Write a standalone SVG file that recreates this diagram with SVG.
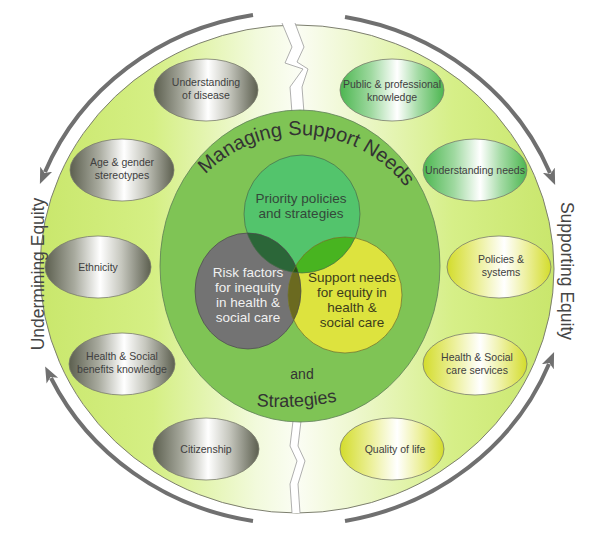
<svg xmlns="http://www.w3.org/2000/svg" width="600" height="546" viewBox="0 0 600 546">
<defs>
  <linearGradient id="ringGrad" gradientUnits="userSpaceOnUse" x1="40" y1="0" x2="555" y2="0">
    <stop offset="0" stop-color="#c9e76c"/>
    <stop offset="0.22" stop-color="#d5ef84"/>
    <stop offset="0.42" stop-color="#f2fadc"/>
    <stop offset="0.5" stop-color="#fbfdf4"/>
    <stop offset="0.6" stop-color="#eff8d2"/>
    <stop offset="0.8" stop-color="#d6ef88"/>
    <stop offset="1" stop-color="#c9e66c"/>
  </linearGradient>
  <linearGradient id="greyGrad" x1="0" y1="0" x2="1" y2="0">
    <stop offset="0" stop-color="#5c5f4f"/>
    <stop offset="0.28" stop-color="#a9ab9f"/>
    <stop offset="0.52" stop-color="#ffffff"/>
    <stop offset="0.72" stop-color="#c6c7be"/>
    <stop offset="1" stop-color="#5c5f4f"/>
  </linearGradient>
  <linearGradient id="greenGrad" x1="0" y1="0" x2="1" y2="0">
    <stop offset="0" stop-color="#4cb650"/>
    <stop offset="0.3" stop-color="#9fd9a0"/>
    <stop offset="0.55" stop-color="#ffffff"/>
    <stop offset="0.75" stop-color="#a4dba5"/>
    <stop offset="1" stop-color="#4cb650"/>
  </linearGradient>
  <linearGradient id="yellowGrad" x1="0" y1="0" x2="1" y2="0">
    <stop offset="0" stop-color="#d3dc2c"/>
    <stop offset="0.3" stop-color="#ecf09a"/>
    <stop offset="0.55" stop-color="#ffffff"/>
    <stop offset="0.75" stop-color="#eef1a4"/>
    <stop offset="1" stop-color="#d3dc2c"/>
  </linearGradient>
  <marker id="head" viewBox="0 -7 17 14" refX="3" refY="0" markerWidth="17" markerHeight="14" markerUnits="userSpaceOnUse" orient="auto">
    <path d="M0,-6.5 L16,0 L0,6.5 L4,0 Z" fill="#707070"/>
  </marker>
  <clipPath id="cG"><ellipse cx="302" cy="214" rx="58" ry="59"/></clipPath>
  <clipPath id="cK"><ellipse cx="248" cy="291" rx="53" ry="58"/></clipPath>
  <path id="topArc" d="M 167 268 A 133 133 0 0 1 433 268"/>
  <path id="botArc" d="M -20 107 A 300 300 0 0 0 580 107"/>
  <style>
    .node ellipse { stroke: #7a7c6c; stroke-width: 0.8; }
    .lbl { font-family: "Liberation Sans", Arial, sans-serif; font-size: 10.5px; fill: #404040; text-anchor: middle; }
    .venn { font-family: "Liberation Sans", Arial, sans-serif; font-size: 13.5px; text-anchor: middle; }
    .side { font-family: "Liberation Sans", Arial, sans-serif; font-size: 17.5px; fill: #454545; text-anchor: middle; }
    .arrow { fill: none; stroke: #707070; stroke-width: 4; }
    .crackline { fill: none; stroke: #9a9a9a; stroke-width: 0.8; }
  </style>
</defs>

<!-- Outer ring -->
<g id="outer-ring">
  <ellipse cx="297" cy="269" rx="257" ry="244" fill="url(#ringGrad)" stroke="#7d7f6f" stroke-width="1"/>
</g>

<!-- Cracks -->
<g id="cracks">
  <polygon points="282,23 292,47 285,63 303,69 290,87 292,113 304,113 302,87 308,69 297,62 304,47 295,23" fill="#ffffff"/>
  <polyline class="crackline" points="282,23 292,47 285,63 303,69 290,87 292,113"/>
  <polyline class="crackline" points="295,23 304,47 297,62 308,69 302,87 304,113"/>
  <polygon points="293,421 290,446 297,461 290,484 292,513 300,513 298,484 305,461 298,446 301,421" fill="#ffffff"/>
  <polyline class="crackline" points="293,421 290,446 297,461 290,484 292,513"/>
  <polyline class="crackline" points="301,421 298,446 305,461 298,484 300,513"/>
</g>

<!-- Inner circle -->
<g id="inner-circle">
  <ellipse cx="300" cy="266" rx="140" ry="156" fill="#7fc455" stroke="#5d7d55" stroke-width="0.8"/>
  <text font-family="'Liberation Sans', Arial, sans-serif" font-size="20" fill="#333333" text-anchor="middle"><textPath href="#topArc" startOffset="52%">Managing Support Needs</textPath></text>
  <text x="302" y="379" font-family="'Liberation Sans', Arial, sans-serif" font-size="14" fill="#333333" text-anchor="middle">and</text>
  <text font-family="'Liberation Sans', Arial, sans-serif" font-size="18" fill="#333333" text-anchor="middle"><textPath href="#botArc" startOffset="488">Strategies</textPath></text>
</g>

<!-- Venn -->
<g id="venn">
  <ellipse cx="302" cy="214" rx="58" ry="59" fill="#53c46c"/>
  <ellipse cx="248" cy="291" rx="53" ry="58" fill="#737373"/>
  <ellipse cx="345" cy="295" rx="57" ry="58" fill="#dde33e"/>
  <g clip-path="url(#cG)"><ellipse cx="248" cy="291" rx="53" ry="58" fill="#2b6638"/></g>
  <g clip-path="url(#cG)"><ellipse cx="345" cy="295" rx="57" ry="58" fill="#48b420"/></g>
  <g clip-path="url(#cK)"><ellipse cx="345" cy="295" rx="57" ry="58" fill="#6b6a20"/></g>
  <g clip-path="url(#cG)"><g clip-path="url(#cK)"><ellipse cx="345" cy="295" rx="57" ry="58" fill="#24520f"/></g></g>
  <ellipse cx="302" cy="214" rx="58" ry="59" fill="none" stroke="#4a6a4a" stroke-width="0.7"/>
  <ellipse cx="248" cy="291" rx="53" ry="58" fill="none" stroke="#4a4a4a" stroke-width="0.7"/>
  <ellipse cx="345" cy="295" rx="57" ry="58" fill="none" stroke="#6a6a30" stroke-width="0.7"/>
</g>
<g id="venn-priority">
  <text class="venn" fill="#34483a"><tspan x="301" y="203">Priority policies</tspan><tspan x="301" y="218">and strategies</tspan></text>
</g>
<g id="venn-risk">
  <text class="venn" fill="#f0f0f0"><tspan x="248" y="277">Risk factors</tspan><tspan x="248" y="292">for inequity</tspan><tspan x="248" y="307">in health &amp;</tspan><tspan x="248" y="322">social care</tspan></text>
</g>
<g id="venn-support">
  <text class="venn" fill="#3c3c1c"><tspan x="352" y="282">Support needs</tspan><tspan x="352" y="297">for equity in</tspan><tspan x="352" y="312">health &amp;</tspan><tspan x="352" y="327">social care</tspan></text>
</g>

<!-- Left nodes -->
<g id="n-understanding-disease" class="node">
  <ellipse cx="206" cy="90" rx="52" ry="31" fill="url(#greyGrad)"/>
  <text class="lbl"><tspan x="206" y="86">Understanding</tspan><tspan x="206" y="99">of disease</tspan></text>
</g>
<g id="n-age-gender" class="node">
  <ellipse cx="122" cy="170" rx="52" ry="31" fill="url(#greyGrad)"/>
  <text class="lbl"><tspan x="122" y="166">Age &amp; gender</tspan><tspan x="122" y="179">stereotypes</tspan></text>
</g>
<g id="n-ethnicity" class="node">
  <ellipse cx="98" cy="267" rx="53" ry="31" fill="url(#greyGrad)"/>
  <text class="lbl" x="98" y="271">Ethnicity</text>
</g>
<g id="n-benefits" class="node">
  <ellipse cx="122" cy="364" rx="53" ry="31" fill="url(#greyGrad)"/>
  <text class="lbl"><tspan x="122" y="360">Health &amp; Social</tspan><tspan x="122" y="373">benefits knowledge</tspan></text>
</g>
<g id="n-citizenship" class="node">
  <ellipse cx="206" cy="449" rx="53" ry="31" fill="url(#greyGrad)"/>
  <text class="lbl" x="206" y="453">Citizenship</text>
</g>

<!-- Right nodes -->
<g id="n-public-knowledge" class="node">
  <ellipse cx="392" cy="90" rx="52" ry="31" fill="url(#greenGrad)"/>
  <text class="lbl"><tspan x="392" y="88">Public &amp; professional</tspan><tspan x="392" y="101">knowledge</tspan></text>
</g>
<g id="n-understanding-needs" class="node">
  <ellipse cx="475" cy="170" rx="52" ry="31" fill="url(#greenGrad)"/>
  <text class="lbl" x="475" y="174">Understanding needs</text>
</g>
<g id="n-policies" class="node">
  <ellipse cx="499" cy="267" rx="52" ry="31" fill="url(#yellowGrad)"/>
  <text class="lbl"><tspan x="501" y="263">Policies &amp;</tspan><tspan x="501" y="276">systems</tspan></text>
</g>
<g id="n-care-services" class="node">
  <ellipse cx="475" cy="364" rx="52" ry="31" fill="url(#yellowGrad)"/>
  <text class="lbl"><tspan x="477" y="361">Health &amp; Social</tspan><tspan x="477" y="374">care services</tspan></text>
</g>
<g id="n-quality" class="node">
  <ellipse cx="392" cy="449" rx="52" ry="31" fill="url(#yellowGrad)"/>
  <text class="lbl" x="395" y="453">Quality of life</text>
</g>

<!-- Side labels -->
<g id="label-undermining">
  <text class="side" transform="translate(44,274) rotate(-90)">Undermining Equity</text>
</g>
<g id="label-supporting">
  <text class="side" transform="translate(561,271) rotate(90)">Supporting Equity</text>
</g>

<!-- Connectors -->
<g id="connectors">
  <path class="arrow" d="M 253 15 A 272 256 0 0 0 45 172" marker-end="url(#head)"/>
  <path class="arrow" d="M 253 521 A 272 256 0 0 1 51 378" marker-end="url(#head)"/>
  <path class="arrow" d="M 345 17 A 272 256 0 0 1 550 173" marker-end="url(#head)"/>
  <path class="arrow" d="M 345 521 A 272 256 0 0 0 549 364" marker-end="url(#head)"/>
</g>
</svg>
